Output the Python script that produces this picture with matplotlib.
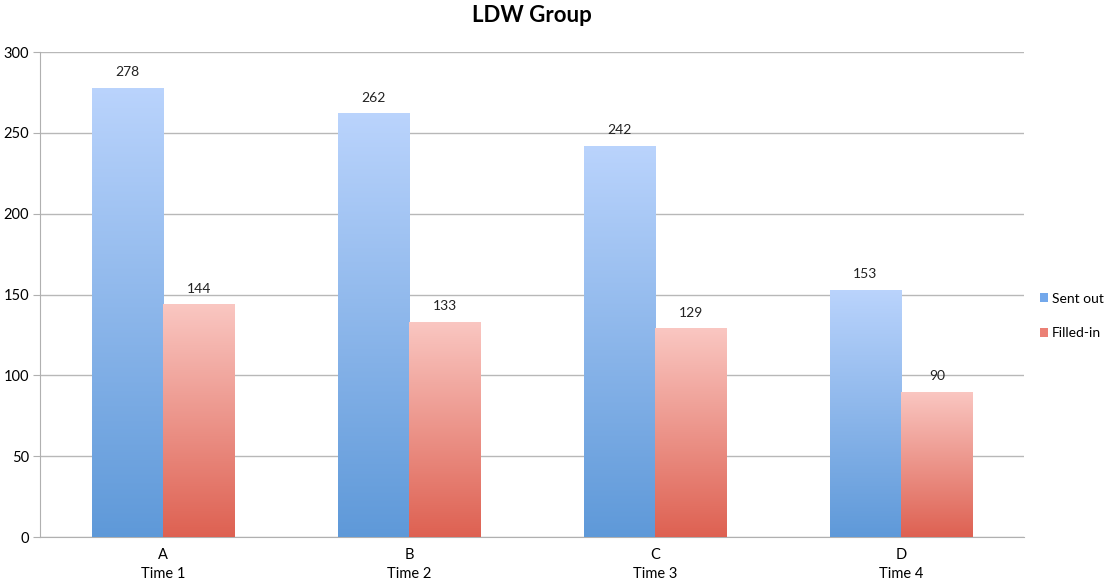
import matplotlib
matplotlib.use("Agg")
import matplotlib.pyplot as plt
import numpy as np
from matplotlib.colors import LinearSegmentedColormap
from matplotlib.patches import Patch

categories = ["A\nTime 1", "B\nTime 2", "C\nTime 3", "D\nTime 4"]
sent_out = [278, 262, 242, 153]
filled_in = [144, 133, 129, 90]
series_names = ["Sent out", "Filled-in"]

plt.rcParams['font.family'] = ['Lato', 'DejaVu Sans']

fig = plt.figure(figsize=(11.12, 5.85), dpi=100)
ax = fig.add_axes([0.036, 0.082, 0.885, 0.829])

x = np.arange(len(categories))
w = 0.29

blue_cmap = LinearSegmentedColormap.from_list("b", [(0.37, 0.60, 0.85), (0.73, 0.83, 0.99)])
red_cmap = LinearSegmentedColormap.from_list("r", [(0.87, 0.38, 0.32), (0.98, 0.78, 0.76)])

grad = np.linspace(0, 1, 256).reshape(-1, 1)

def grad_bars(xs, vals, cmap, offset):
    bars = ax.bar(xs + offset, vals, w, color='none', edgecolor='none', zorder=3)
    for b, v in zip(bars, vals):
        x0 = b.get_x()
        im = ax.imshow(grad, extent=[x0, x0 + w, 0, v], origin='lower', cmap=cmap,
                       aspect='auto', zorder=3)
        im.set_clip_path(b)
        ax.text(x0 + w / 2, v + 6, str(v), ha='center', va='bottom', fontsize=10, color='#222222', zorder=4)
    return bars

grad_bars(x, sent_out, blue_cmap, -w / 2)
grad_bars(x, filled_in, red_cmap, w / 2)

ax.set_xlim(-0.5, 3.5)
ax.set_ylim(0, 300)
ax.set_yticks(np.arange(0, 301, 50))
ax.set_xticks(x)
ax.set_xticklabels(categories, fontsize=10.5, linespacing=1.45)
ax.tick_params(axis='y', labelsize=10.5, length=5, color='#b0b0b0', pad=3)
ax.tick_params(axis='x', length=0, pad=8)
ax.grid(axis='y', color='#b8b8b8', linewidth=1, zorder=0)
for s in ['top', 'right']:
    ax.spines[s].set_visible(False)
ax.spines['left'].set_color('#b0b0b0')
ax.spines['bottom'].set_color('#b0b0b0')
ax.set_title("LDW Group", fontsize=16, fontweight='bold', pad=22)

handles = [Patch(facecolor=(0.45, 0.66, 0.92)), Patch(facecolor=(0.92, 0.50, 0.46))]
fig.legend(handles, series_names, loc='center left', bbox_to_anchor=(0.935, 0.46),
           frameon=False, fontsize=10, handlelength=0.6, handleheight=0.6,
           handletextpad=0.25, labelspacing=1.6, borderpad=0, borderaxespad=0)

fig.savefig("out.png", dpi=100)
